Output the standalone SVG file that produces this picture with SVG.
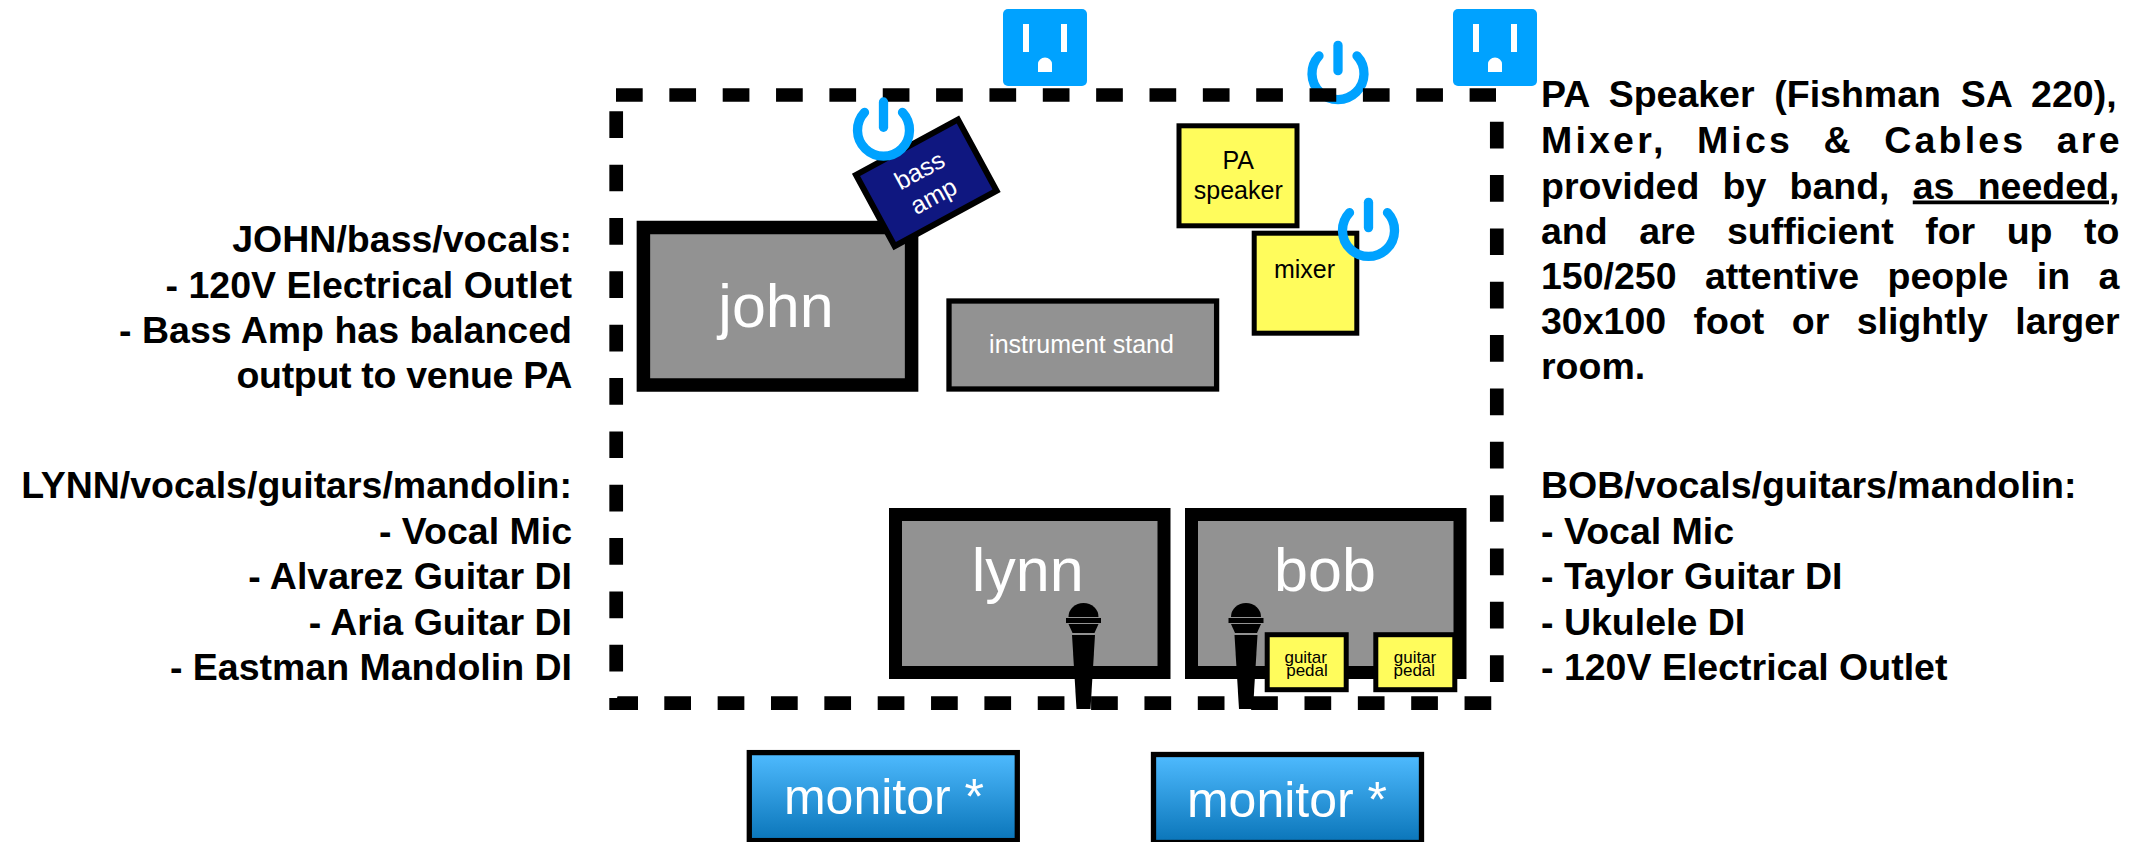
<svg xmlns="http://www.w3.org/2000/svg" xmlns:xlink="http://www.w3.org/1999/xlink" width="2132" height="842" viewBox="0 0 2132 842">
<style>
text{font-family:"Liberation Sans",Arial,Helvetica,sans-serif}
.note{font-size:37.5px;font-weight:bold;fill:#000}
.r{text-anchor:end}
.c{text-anchor:middle}
.grey{fill:#929292;stroke:#000}
.yellow{fill:#FFFC5C;stroke:#000}
.big{font-size:61px;fill:#fff}
.mid{font-size:25px}
.ped{font-size:17px;fill:#000}
.mon{font-size:50px;fill:#fff}
.dash{stroke:#000;stroke-width:13.700;fill:none;stroke-dasharray:26.700 26.650}
.blue{fill:#00A2FF}
.pw{fill:none;stroke:#00A2FF;stroke-width:9.300;stroke-linecap:round}
</style>
<defs>
<linearGradient id="mg" x1="0" y1="0" x2="0" y2="1"><stop offset="0" stop-color="#4FBBFF"/><stop offset="1" stop-color="#0A75B9"/></linearGradient>
<g id="outlet">
<rect width="84" height="77" rx="5" class="blue"/>
<path fill="#fff" d="M20,15h6v28h-6zM58,15h6v28h-6zM35,63v-8a7,6.500 0 0 1 14,0v8z"/>
</g>
<g id="power" class="pw"><path d="M-19,-17.600A26,26 0 1 0 19,-17.600"/><path d="M0,-28V-2.700"/></g>
<g id="mic" fill="#000">
<path d="M-15,13A15,14 0 0 1 15,13Z"/>
<rect x="-17.500" y="14" width="35" height="5"/>
<path d="M-15,20H15L11,29H-11Z"/>
<path d="M-11.500,31H11.500L7,105H-7Z"/>
</g>
</defs>
<rect width="2132" height="842" fill="#fff"/>

<g id="power-pa"><use xlink:href="#power" href="#power" x="1338" y="73.400"/></g>

<g id="connectors">
<line class="dash" x1="616" y1="95" x2="1496" y2="95"/>
<line class="dash" x1="616.200" y1="111.300" x2="616.200" y2="672"/>
<line class="dash" x1="1496.800" y1="121.700" x2="1496.800" y2="682"/>
<path d="M609.300,698H617L617.500,696.300H638V710H609.300Z"/>
<line class="dash" x1="664.300" y1="703.200" x2="1492" y2="703.200"/>
</g>

<g id="outlet-1"><use xlink:href="#outlet" href="#outlet" x="1003" y="9"/></g>
<g id="outlet-2"><use xlink:href="#outlet" href="#outlet" x="1453" y="9"/></g>

<g id="john"><rect class="grey" x="643.400" y="227.500" width="268.200" height="157.500" stroke-width="13.500"/><text class="big c" x="776" y="326.700">john</text></g>
<g id="bass-amp" transform="translate(926.300,182.800) rotate(-28.500)"><rect x="-58" y="-40.500" width="116" height="81" fill="#0F1780" stroke="#000" stroke-width="6"/><text class="mid c" fill="#fff" y="-5.700">bass</text><text class="mid c" fill="#fff" y="23.700">amp</text></g>
<g id="power-bass"><use xlink:href="#power" href="#power" x="883.500" y="130"/></g>
<g id="instrument-stand"><rect class="grey" x="949" y="301" width="267.600" height="88" stroke-width="5.300"/><text class="mid c" fill="#fff" x="1081.500" y="352.700">instrument stand</text></g>
<g id="pa-speaker"><rect class="yellow" x="1179" y="125.800" width="118" height="100" stroke-width="5"/><text class="mid c" x="1238.300" y="169.300">PA</text><text class="mid c" x="1238.300" y="199">speaker</text></g>
<g id="mixer"><rect class="yellow" x="1254.200" y="233.200" width="102.600" height="100" stroke-width="5"/><text class="mid c" x="1304.500" y="278.300">mixer</text></g>
<g id="power-mixer"><use xlink:href="#power" href="#power" x="1368.500" y="230.300"/></g>

<g id="lynn"><rect class="grey" x="895.500" y="514.500" width="268.500" height="158" stroke-width="13"/><text class="big c" x="1027.700" y="590.700">lynn</text><use xlink:href="#mic" href="#mic" x="1083.500" y="604"/></g>
<g id="bob"><rect class="grey" x="1191.500" y="514.500" width="268.500" height="158" stroke-width="13"/><text class="big c" x="1325" y="590.700">bob</text><use xlink:href="#mic" href="#mic" x="1246" y="604"/></g>
<g id="pedal-1"><rect class="yellow" x="1267.200" y="634.700" width="79" height="55" stroke-width="5"/><text class="ped c" x="1305.700" y="663">guitar</text><text class="ped c" x="1307" y="676">pedal</text></g>
<g id="pedal-2"><rect class="yellow" x="1375.800" y="634.700" width="79" height="55" stroke-width="5"/><text class="ped c" x="1415" y="663">guitar</text><text class="ped c" x="1414.300" y="676">pedal</text></g>

<g id="monitor-1"><rect x="749.300" y="752.600" width="268" height="88" fill="url(#mg)" stroke="#000" stroke-width="5.300"/><text class="mon c" x="884" y="814">monitor *</text></g>
<g id="monitor-2"><rect x="1153.500" y="754.500" width="268" height="88" fill="url(#mg)" stroke="#000" stroke-width="5.300"/><text class="mon c" x="1287" y="816.700">monitor *</text></g>

<g id="notes-left">
<text class="note r" x="572" y="251.700">JOHN/bass/vocals:</text>
<text class="note r" x="572" y="297.700">- 120V Electrical Outlet</text>
<text class="note r" x="572" y="343">- Bass Amp has balanced</text>
<text class="note r" x="572" y="388" letter-spacing="-0.300">output to venue PA</text>
<text class="note r" x="572" y="498.300">LYNN/vocals/guitars/mandolin:</text>
<text class="note r" x="572" y="544">- Vocal Mic</text>
<text class="note r" x="572" y="589">- Alvarez Guitar DI</text>
<text class="note r" x="572" y="635">- Aria Guitar DI</text>
<text class="note r" x="572" y="680">- Eastman Mandolin DI</text>
</g>
<g id="notes-right">
<text class="note" x="1541" y="107.300" word-spacing="9.300">PA Speaker (Fishman SA 220),</text>
<text class="note" x="1541" y="153" word-spacing="16.800" letter-spacing="3.200">Mixer, Mics &amp; Cables are</text>
<text class="note" x="1541" y="198.500" word-spacing="12.800">provided by band, <tspan text-decoration="underline">as needed</tspan>,</text>
<text class="note" x="1541" y="244" word-spacing="21.100">and are sufficient for up to</text>
<text class="note" x="1541" y="288.700" word-spacing="18">150/250 attentive people in a</text>
<text class="note" x="1541" y="334.300" word-spacing="17">30x100 foot or slightly larger</text>
<text class="note" x="1541" y="379.300">room.</text>
<text class="note" x="1541" y="498.300">BOB/vocals/guitars/mandolin:</text>
<text class="note" x="1541" y="544">- Vocal Mic</text>
<text class="note" x="1541" y="589">- Taylor Guitar DI</text>
<text class="note" x="1541" y="635">- Ukulele DI</text>
<text class="note" x="1541" y="680">- 120V Electrical Outlet</text>
</g>
</svg>
